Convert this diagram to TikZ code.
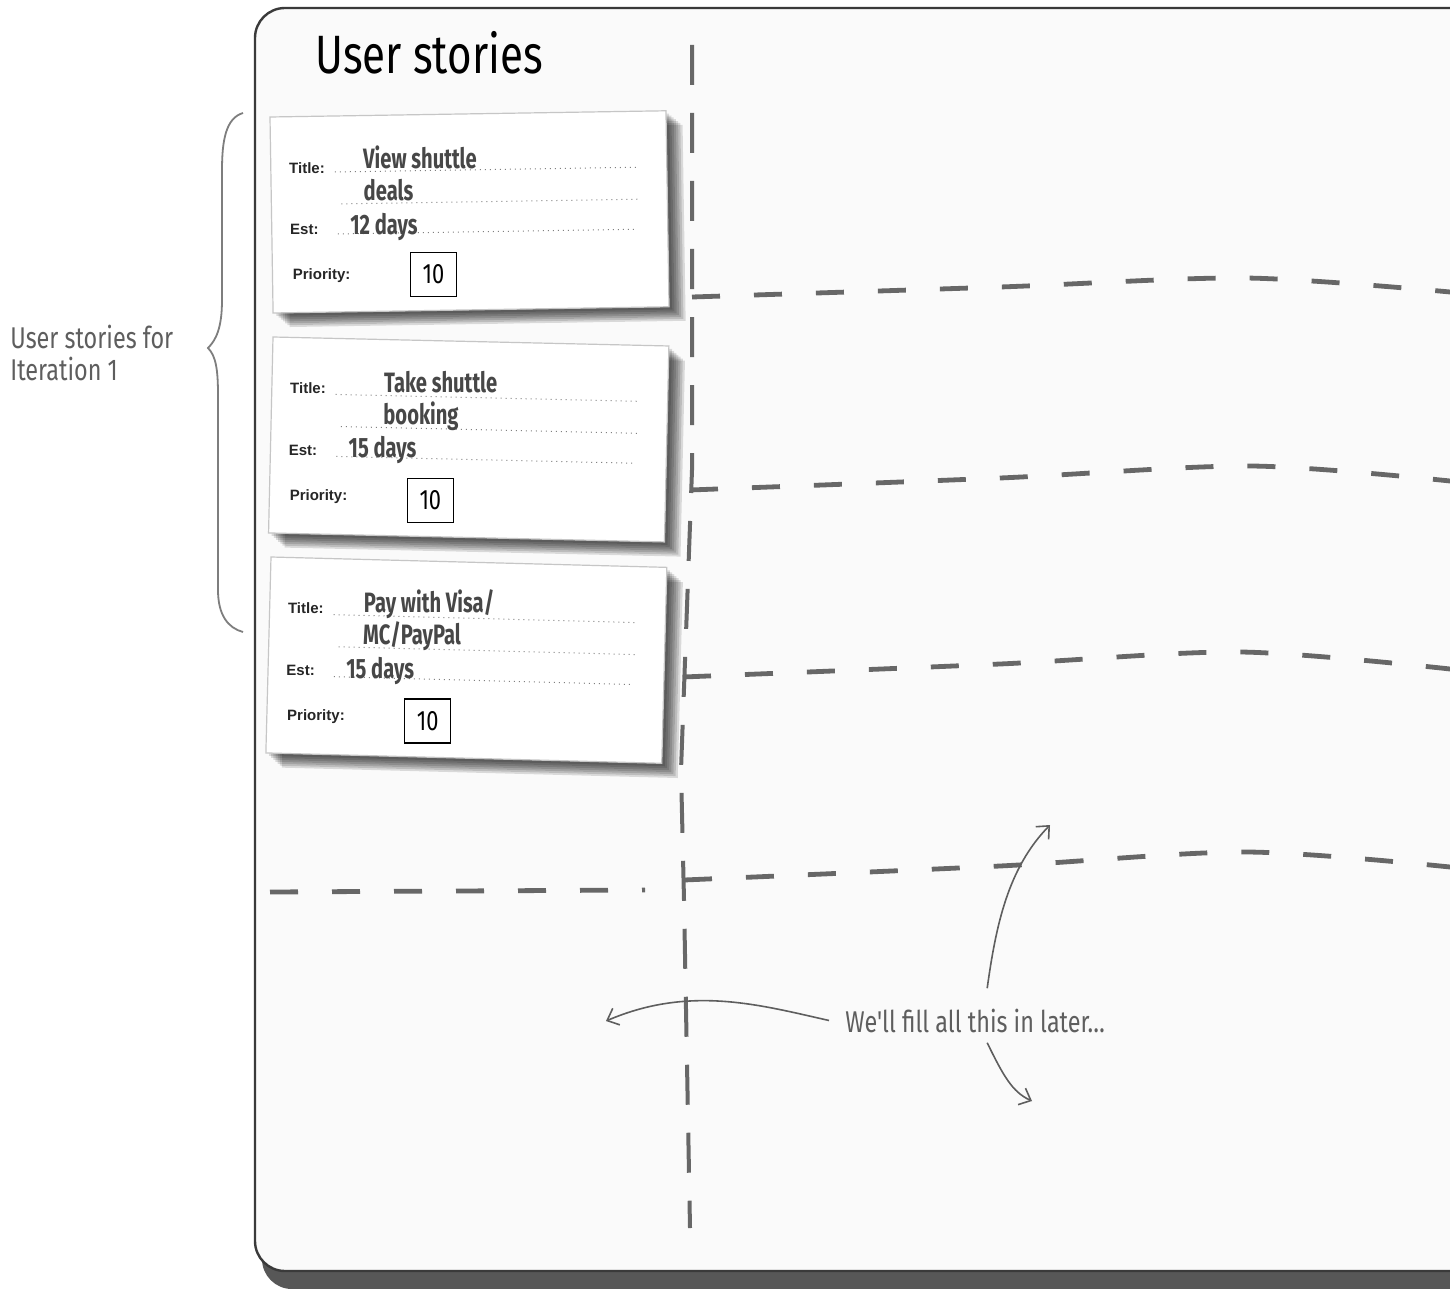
\documentclass[tikz,border=0pt]{standalone}
\usepackage{fontspec}
\setmainfont{Liberation Sans}
\newfontfamily\handfont[FakeStretch=0.78]{Fira Sans}
\newfontfamily\cardfont[FakeStretch=0.72]{Fira Sans}
\usetikzlibrary{arrows.meta}

\definecolor{boardline}{HTML}{3A3A3A}
\definecolor{boardfill}{HTML}{FAFAFA}
\definecolor{dashgray}{HTML}{676767}
\definecolor{inkgray}{HTML}{474747}
\definecolor{notegray}{HTML}{5E5E5E}

\tikzset{
  cardlabel/.style={font=\bfseries\fontsize{7.5}{8}\selectfont, text=black!85, anchor=west, inner sep=0pt},
  cardink/.style={font=\cardfont\bfseries\fontsize{14}{16}\selectfont, text=inkgray, anchor=base west, inner sep=0pt},
  dotline/.style={dotted, gray, line width=0.5pt},
  rowline/.style={dashgray, line width=2.4pt, dash pattern=on 14pt off 17pt},
  colline/.style={dashgray, line width=2pt, dash pattern=on 20pt off 14pt},
  notearrow/.style={notegray, line width=0.8pt, -{Straight Barb[length=5pt,width=9pt]}},
  priobox/.style={draw, line width=0.7pt, minimum width=23pt, minimum height=22pt, inner sep=0pt,
    font=\handfont\fontsize{14}{14}\selectfont},
}

% one story card: name, top left, angle, title line 1, title line 2, estimate, text indent
\newcommand{\storycard}[7]{%
  \begin{scope}[shift={(#2)}, rotate=#3]
    \foreach \s in {1,...,7}
      \fill[black, opacity=0.13] (\s*2.2+1,\s*1.9+1) rectangle ++(396,196);
    \filldraw[fill=white, draw=gray!45, line width=0.6pt] (0,0) rectangle (396,196);
    \node[cardlabel] (#1-title) at (18,51) {Title:};
    \draw[dotline] (64,56) -- (366,56);
    \node[cardink] (#1-name) at (#7,53) {#4};
    \draw[dotline] (70,88) -- (366,88);
    \node[cardink] (#1-name2) at (#7,85) {#5};
    \node[cardlabel] (#1-est) at (18,113) {Est:};
    \draw[dotline] (66,118) -- (366,118);
    \node[cardink] (#1-days) at (78,119) {#6};
    \node[cardlabel] (#1-prio) at (20,159) {Priority:};
    \node[priobox] (#1-box) at (161,160) {10};
  \end{scope}}

\begin{document}
\begin{tikzpicture}[x=0.5pt, y=-0.5pt]
\useasboundingbox (0,0) rectangle (1450,1289);
\clip (0,0) rectangle (1450,1289);
\fill[white] (0,0) rectangle (1450,1289);

% board
\fill[boardline!85, rounded corners=15pt] (262,30) rectangle (1520,1289);
\filldraw[fill=boardfill, draw=boardline, line width=1.2pt, rounded corners=15pt] (255,8) rectangle (1520,1271);
\node[font=\handfont\fontsize{27}{28}\selectfont, anchor=base west, inner sep=0pt] (boardtitle) at (315,74) {User stories};

% columns and rows
\draw[colline] (692,45) -- (692,470) -- (681,770) -- (684,900) -- (690,1228);
\draw[rowline] plot[smooth, tension=0.5] coordinates {(692,297) (1000,287) (1245,278) (1450,292)};
\draw[rowline] plot[smooth, tension=0.5] coordinates {(690,490) (1000,478) (1250,466) (1450,481)};
\draw[rowline] plot[smooth, tension=0.5] coordinates {(683,677) (1000,664) (1240,652) (1450,669)};
\draw[rowline] plot[smooth, tension=0.5] coordinates {(684,880) (1000,866) (1245,852) (1450,867)};
\draw[rowline] (270,892) -- (645,890);

% cards
\storycard{viewdeals}{270,117}{0.9}{View shuttle}{deals}{12 days}{92}
\storycard{booking}{273,337}{-1.3}{Take shuttle}{booking}{15 days}{112}
\storycard{payment}{271,557}{-1.5}{Pay with Visa/}{MC/PayPal}{15 days}{94}

% iteration brace
\node[font=\handfont\fontsize{15}{16}\selectfont, text=notegray, align=left, anchor=west, inner sep=0pt]
  (iterlabel) at (10,353) {User stories for\\Iteration 1};
\draw[notegray!80, line width=0.9pt] (243,113) .. controls (226,118) and (222,140) .. (222,170)
  -- (222,300) .. controls (222,328) and (216,340) .. (208,348)
  .. controls (216,356) and (218,370) .. (218,395)
  -- (218,590) .. controls (218,615) and (228,628) .. (243,632);

% note
\node[font=\handfont\fontsize{15}{15}\selectfont, text=notegray, anchor=base west, inner sep=1pt]
  (note) at (843,1032) {We'll fill all this in later\ldots};
\coordinate (lefttip) at (606,1021);
\coordinate (uptip) at (1050,825);
\coordinate (downtip) at (1032,1101);
\draw[notearrow] ([xshift=-7pt]note.west) .. controls (760,1005) and (690,985) .. (lefttip);
\draw[notearrow] ([xshift=6pt,yshift=9pt]note.north) .. controls (996,925) and (1008,868) .. (uptip);
\draw[notearrow] ([xshift=6pt,yshift=-4pt]note.south) .. controls (1003,1075) and (1012,1092) .. (downtip);
\end{tikzpicture}
\end{document}
